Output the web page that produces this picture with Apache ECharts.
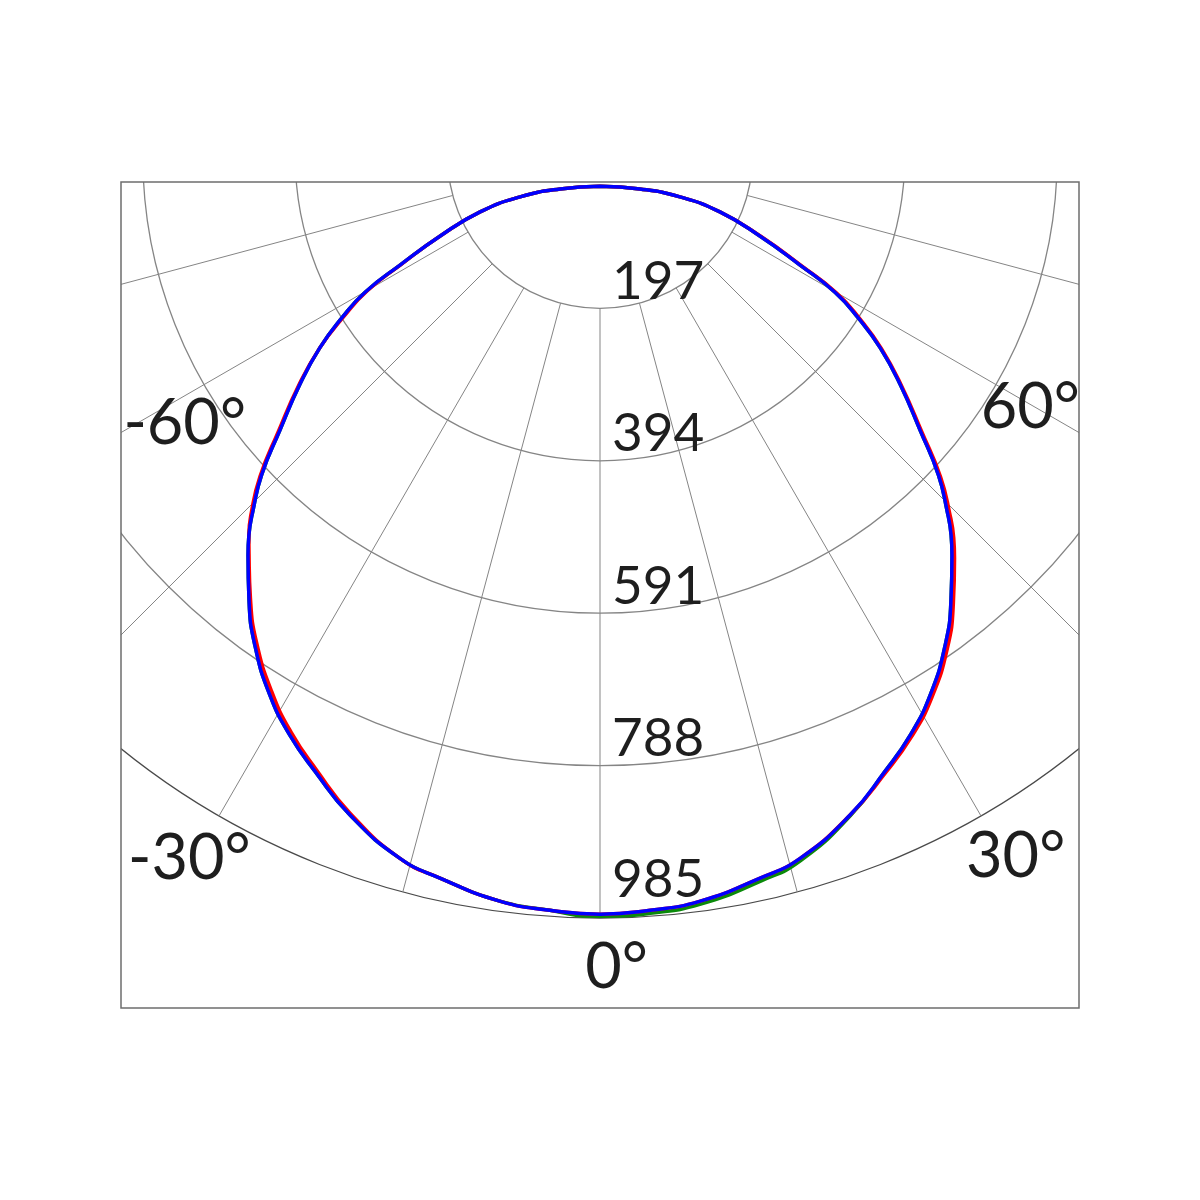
<!DOCTYPE html>
<html>
<head>
<meta charset="utf-8">
<script src="https://cdn.jsdelivr.net/npm/echarts@6/dist/echarts.min.js"></script>
<style>html,body{margin:0;padding:0;background:#fff}#c{width:1200px;height:1200px}</style>
</head>
<body>
<div id="c"></div>
<script>
// ---- data ----
// angle of each traced point (deg, 0 = straight down, + to the right), traced round the closed curve
const curveAngles = [0, 50.5, 62.9, 65.0, 63.4, 61.4, 59.9, 57.9, 55.6, 52.7, 49.4, 46.7, 44.4, 42.8, 41.4, 38.3, 35.2, 31.5, 28.2, 24.8, 20.8, 15.9, 12.5, 7.6, 3.8, 0,
                     -3.8, -7.6, -12.5, -15.9, -20.8, -24.8, -28.2, -31.5, -35.2, -38.3, -41.4, -42.8, -44.4, -46.7, -49.4, -52.7, -55.6, -57.9, -59.9, -61.4, -63.4, -65.0, -62.9, -50.5, 0];
const blueValues  = [39, 67, 116, 171, 231, 294, 351, 394, 439, 488, 545, 601, 641, 668, 688, 732, 774, 817, 849, 877, 911, 944, 956, 972, 977, 980,
                     977, 972, 956, 944, 911, 877, 849, 817, 774, 732, 688, 668, 641, 601, 545, 488, 439, 394, 351, 294, 231, 171, 116, 67, 39];
const redValues   = [39, 67, 116, 171, 234, 297, 354, 397, 441, 490, 548, 605, 646, 673, 693, 737, 779, 821, 852, 879, 911, 944, 956, 972, 977, 980,
                     977, 972, 956, 944, 909, 874, 845, 812, 770, 729, 686, 668, 644, 604, 548, 490, 439, 391, 348, 292, 231, 171, 116, 67, 39];
const greenValues = [39, 67, 116, 171, 231, 294, 351, 394, 439, 488, 545, 601, 641, 668, 688, 732, 774, 817, 849, 877, 912, 947, 960, 976, 981, 984,
                     977, 972, 956, 944, 911, 877, 849, 817, 774, 732, 688, 668, 641, 601, 545, 488, 439, 394, 351, 294, 231, 171, 116, 67, 39];
const ringTicks = [197, 394, 591, 788, 985];
const angleTickValues = [-60, -30, 0, 30, 60];
const angleTickLabels = ['-60°', '-30°', '0°', '30°', '60°'];

// ---- layout / style ----
const POLE = [600, 156];
const R_OUTER = 762;
const R_INNER = R_OUTER * ringTicks[0] / ringTicks[ringTicks.length - 1];
const labelRadius = [640, 1050, 1050, 1050, 640];
const labelOffsets = [[14, 21], [-4, 0], [17, 0], [10, -2], [2, 5]];
const FRAME = {x: 121, y: 182, w: 958, h: 826};
const FONT = 'Lato, "Open Sans", sans-serif';
const GRID = '#858585';

const norm = a => (a < 0 ? a + 360 : a);
const pairs = vals => vals.map((v, i) => [v, norm(curveAngles[i])]);
const maxTick = ringTicks[ringTicks.length - 1];

const chart = echarts.init(document.getElementById('c'), null, {renderer: 'canvas'});

const lineSeries = (name, vals, color, z) => ({
  name, type: 'line', coordinateSystem: 'polar', polarIndex: 1, data: pairs(vals),
  showSymbol: false, smooth: 0.5, smoothMonotone: null, z, silent: true,
  lineStyle: {color, width: 3.5}
});

const option = {
  animation: false,
  backgroundColor: '#ffffff',
  polar: [
    {center: POLE, radius: [R_INNER, R_OUTER]},   // grid (rings from 197 outward)
    {center: POLE, radius: [0, R_OUTER]}          // same scale, from the pole, for the curves
  ],
  angleAxis: [
    {
      polarIndex: 0, type: 'value', min: 0, max: 360, interval: 15, startAngle: -90, clockwise: false,
      axisLine: {show: false}, axisTick: {show: false}, axisLabel: {show: false},
      splitLine: {show: true, lineStyle: {color: GRID, width: 1}}
    },
    {
      polarIndex: 1, type: 'value', min: 0, max: 360, interval: 15, startAngle: -90, clockwise: false,
      axisLine: {show: false}, axisTick: {show: false}, axisLabel: {show: false}, splitLine: {show: false}
    }
  ],
  radiusAxis: [
    {
      polarIndex: 0, type: 'value', min: ringTicks[0], max: maxTick, interval: ringTicks[0],
      axisLine: {show: false}, axisTick: {show: false},
      axisLabel: {
        margin: 12, align: 'left', verticalAlign: 'bottom', fontSize: 53, color: '#1e1e1e', fontFamily: FONT,
        formatter: v => (v === maxTick ? '{up|' + v + '}' : String(v)),
        rich: {up: {fontSize: 53, color: '#1e1e1e', fontFamily: FONT, padding: [0, 0, 12, 0]}}
      },
      splitLine: {show: true, lineStyle: {color: [GRID, GRID, GRID, GRID, '#4a4a4a'], width: 1.3}}
    },
    {
      polarIndex: 1, type: 'value', min: 0, max: maxTick,
      axisLine: {show: false}, axisTick: {show: false}, axisLabel: {show: false}, splitLine: {show: false}
    }
  ],
  series: [
    lineSeries('green', greenValues, '#0a8a0a', 3),
    lineSeries('red', redValues, '#ff0000', 4),
    lineSeries('blue', blueValues, '#0000ff', 5),
    {
      name: 'angleLabels', type: 'scatter', coordinateSystem: 'polar', polarIndex: 1,
      symbol: 'circle', symbolSize: 1, z: 6,
      clip: false, silent: true, emphasis: {disabled: true},
      itemStyle: {color: 'rgba(255,255,255,0)'},
      data: angleTickValues.map((a, i) => ({
        value: [labelRadius[i], norm(a)],
        label: {offset: labelOffsets[i]}
      })),
      label: {
        show: true, position: [0, 0], align: 'center', verticalAlign: 'middle',
        fontSize: 63, color: '#1e1e1e', opacity: 1, fontFamily: FONT, textBorderWidth: 0,
        formatter: p => angleTickLabels[p.dataIndex]
      }
    }
  ],
  graphic: {
    elements: [
      {type: 'rect', z: 100, shape: {x: 0, y: 0, width: 1200, height: FRAME.y}, style: {fill: '#fff'}},
      {type: 'rect', z: 100, shape: {x: 0, y: 0, width: FRAME.x, height: 1200}, style: {fill: '#fff'}},
      {type: 'rect', z: 100, shape: {x: FRAME.x + FRAME.w, y: 0, width: 1200 - FRAME.x - FRAME.w, height: 1200}, style: {fill: '#fff'}},
      {type: 'rect', z: 100, shape: {x: 0, y: FRAME.y + FRAME.h, width: 1200, height: 1200 - FRAME.y - FRAME.h}, style: {fill: '#fff'}},
      {type: 'rect', z: 101, shape: {x: FRAME.x, y: FRAME.y, width: FRAME.w, height: FRAME.h}, style: {fill: 'none', stroke: '#6e6e6e', lineWidth: 1.5}}
    ]
  }
};
chart.setOption(option);
</script>
</body>
</html>
